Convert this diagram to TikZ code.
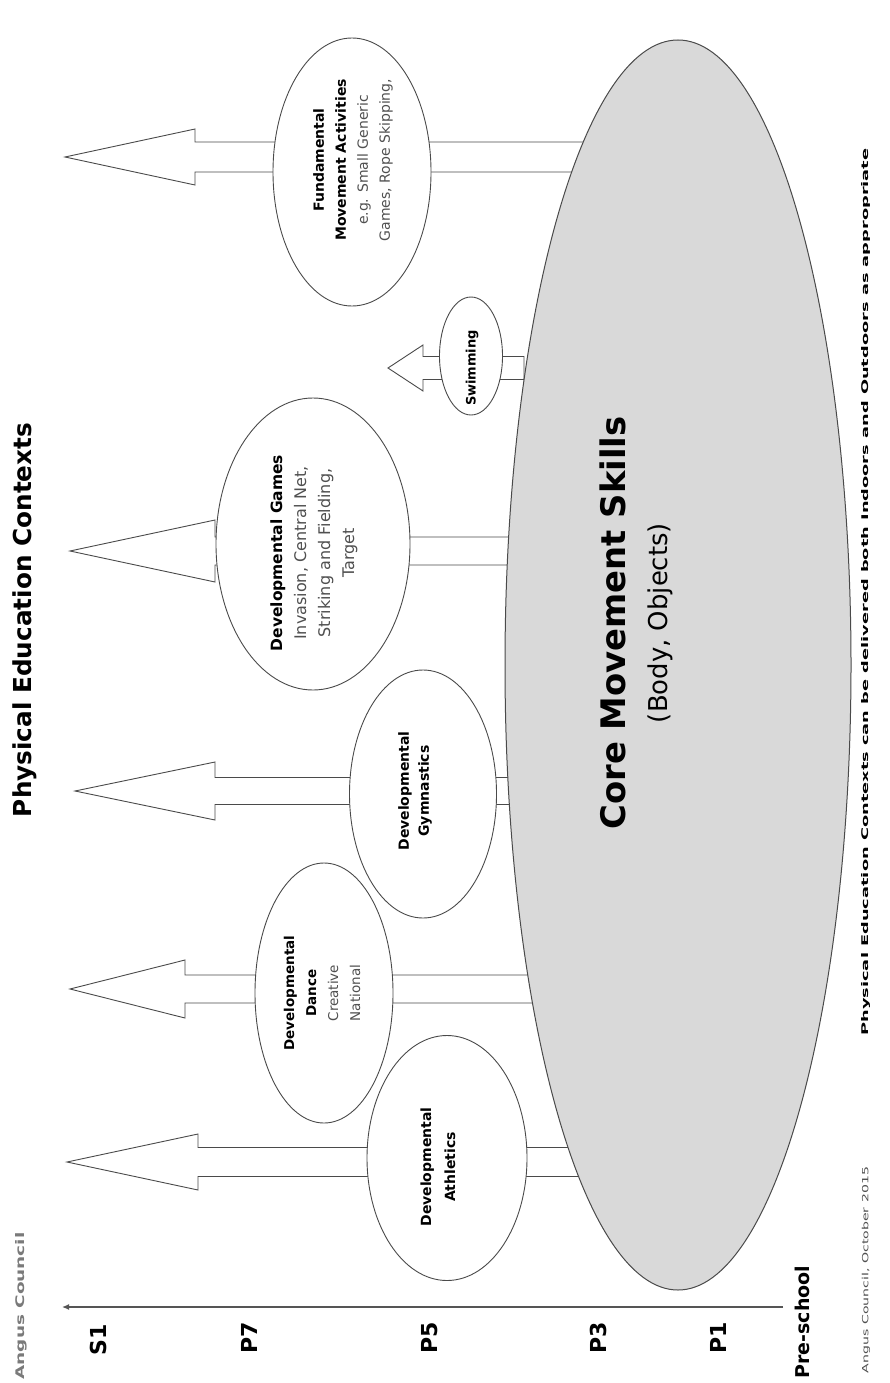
\documentclass[tikz,border=0pt]{standalone}
\usepackage{fontspec}
\setmainfont{DejaVu Sans}
\usetikzlibrary{shapes.geometric, arrows.meta}
\definecolor{edgec}{HTML}{4A4A4A}
\definecolor{corec}{HTML}{D9D9D9}
\definecolor{softc}{HTML}{505050}
\definecolor{axisc}{HTML}{555555}
\definecolor{greyc}{HTML}{7A7A7A}
% tip x, centre y, head base x, head half height, shaft half height, shaft end x
\newcommand{\blockarrow}[6]{%
  \draw[arr] (#1,#2) -- (#3,#2-#4) -- (#3,#2-#5) -- (#6,#2-#5) -- (#6,#2+#5)
    -- (#3,#2+#5) -- (#3,#2+#4) -- cycle;}
\begin{document}
\begin{tikzpicture}[x=1pt,y=-1pt,
  arr/.style={draw=edgec, fill=white, line width=0.9pt, line join=miter},
  bub/.style={draw=edgec, fill=white, ellipse, line width=0.9pt, inner sep=0pt},
  vtxt/.style={rotate=90, inner sep=0pt, align=center},
  lev/.style={rotate=90, inner sep=0pt, font=\bfseries\fontsize{22}{26}\selectfont},
]
\fill[white] (0,0) rectangle (890,1383);
\useasboundingbox (0,0) rectangle (890,1383);

% block arrows (drawn first, covered by ellipses)
\blockarrow{65}{157}{195}{28}{15}{590}
\blockarrow{388}{368}{423}{23}{11.5}{524}
\blockarrow{70}{551}{215}{31}{14}{520}
\blockarrow{75}{791}{215}{29}{13.5}{520}
\blockarrow{70}{989}{185}{29}{14}{545}
\blockarrow{67}{1162}{198}{28}{14.5}{590}

% core ellipse
\node[draw=edgec, fill=corec, ellipse, line width=1pt, inner sep=0pt,
      minimum width=346pt, minimum height=1250pt] (core) at (678,665) {};

% context ellipses
\node[bub, minimum width=158pt, minimum height=268pt] (fma) at (352,172) {};
\node[bub, minimum width=63pt, minimum height=118pt] (swim) at (471,356) {};
\node[bub, minimum width=194pt, minimum height=292pt] (games) at (313,544) {};
\node[bub, minimum width=147pt, minimum height=248pt] (gym) at (423,794) {};
\node[bub, minimum width=138pt, minimum height=260pt] (dance) at (324,993) {};
\node[bub, minimum width=160pt, minimum height=245pt] (ath) at (447,1158) {};

% texts in ellipses
\node[vtxt, font=\fontsize{14}{22}\selectfont] (fmat) at (353,160) {\bfseries Fundamental\\
  \bfseries Movement Activities\\
  \color{softc}e.g. Small Generic\\
  \color{softc}Games, Rope Skipping,};
\node[vtxt, font=\bfseries\fontsize{13}{20}\selectfont] (swimt) at (472,368) {Swimming};
\node[vtxt, font=\fontsize{16}{24}\selectfont] (gamest) at (314,553) {\bfseries\fontsize{15.5}{24}\selectfont Developmental Games\\
  \color{softc}Invasion, Central Net,\\
  \color{softc}Striking and Fielding,\\
  \color{softc}Target};
\node[vtxt, font=\bfseries\fontsize{14}{20}\selectfont] (gymt) at (415,791) {Developmental\\
  Gymnastics};
\node[vtxt, font=\fontsize{13.5}{22}\selectfont] (dancet) at (322,993) {\bfseries Developmental\\
  \bfseries Dance\\
  \color{softc}Creative\\
  \color{softc}National};
\node[vtxt, font=\bfseries\fontsize{14}{24}\selectfont] (atht) at (438,1167) {Developmental\\
  Athletics};

% core texts
\node[vtxt] (coret) at (613,623) {\resizebox{413pt}{!}{\bfseries Core Movement Skills}};
\node[vtxt] (bodyt) at (660,623) {\resizebox{200pt}{!}{(Body, Objects)}};

% titles and notes
\node[vtxt] (title) at (25,620) {\resizebox{394pt}{!}{\bfseries Physical Education Contexts}};
\node[vtxt, text=greyc] (angus) at (21,1306) {\resizebox{147pt}{9pt}{\bfseries Angus Council}};
\node[vtxt] (note) at (866,592) {\resizebox{887pt}{7pt}{\bfseries Physical Education Contexts can be delivered both Indoors and Outdoors as appropriate}};
\node[vtxt, text=softc] (date) at (866,1270) {\resizebox{206pt}{6.5pt}{Angus Council, October 2015}};

% stage axis
\coordinate (ax0) at (783,1307);
\coordinate (ax1) at (62,1307);
\draw[axisc, line width=1.3pt, -{Latex[length=7pt,width=6pt]}] (ax0) -- (ax1);
\node[lev] (s1) at (98,1340) {S1};
\node[lev] (p7) at (249,1338) {P7};
\node[lev] (p5) at (430,1338) {P5};
\node[lev] (p3) at (598,1338) {P3};
\node[lev] (p1) at (718,1338) {P1};
\node[lev, font=\bfseries\fontsize{19}{24}\selectfont] (pre) at (802,1322) {Pre-school};
\end{tikzpicture}
\end{document}
